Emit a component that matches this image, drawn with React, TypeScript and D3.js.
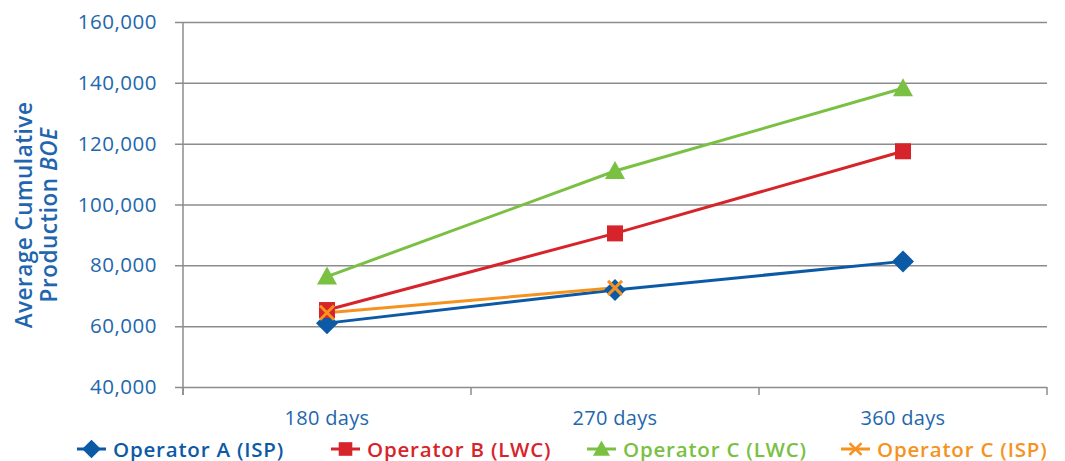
import { useEffect, useRef } from 'react'
import * as d3 from 'd3'

const categories = ['180 days', '270 days', '360 days']
const yTicks = [40000, 60000, 80000, 100000, 120000, 140000, 160000]

const operatorAIsp = [61000, 71900, 81300]
const operatorBLwc = [65300, 90500, 117500]
const operatorCLwc = [76300, 111000, 138200]
const operatorCIsp = [64400, 72600]

const seriesNames = ['Operator A (ISP)', 'Operator B (LWC)', 'Operator C (LWC)', 'Operator C (ISP)']

const W = 1065
const H = 461
const margin = { top: 22, right: 18, bottom: 74, left: 183 }
const font = '"Open Sans", "Noto Sans", sans-serif'

const App = () => {
  const svgRef = useRef<SVGSVGElement | null>(null)

  useEffect(() => {
    if (!svgRef.current) return
    const svg = d3.select(svgRef.current)
    svg.selectAll('*').remove()

    const width = W - margin.left - margin.right
    const height = H - margin.top - margin.bottom

    const x = d3.scaleBand().domain(categories).range([0, width])
    const y = d3.scaleLinear().domain([40000, 160000]).range([height, 0])

    const g = svg.append('g').attr('transform', `translate(${margin.left},${margin.top})`)

    // grid lines, extending left past the axis as tick marks
    g.append('g')
      .call(d3.axisLeft(y).tickValues(yTicks).tickSize(0).tickFormat(() => ''))
      .call(s => s.select('.domain').remove())
      .call(s => s.selectAll('.tick line').attr('stroke', '#8c8c8c').attr('stroke-width', 1.5)
        .attr('x1', -8).attr('x2', width))

    g.append('g')
      .call(d3.axisLeft(y).tickValues(yTicks).tickSize(0).tickPadding(26).tickFormat(d3.format(',')))
      .call(s => s.select('.domain').remove())
      .call(s => s.selectAll('text').attr('fill', '#2267ad').attr('font-size', 20.5)
        .attr('letter-spacing', 0.5).attr('font-family', font))

    // y axis line
    g.append('line').attr('x1', 0).attr('x2', 0).attr('y1', 0).attr('y2', height + 8)
      .attr('stroke', '#8c8c8c').attr('stroke-width', 1.5)

    // x ticks between categories
    const xEdges = [...categories.map(c => x(c) as number), width]
    g.selectAll('.xtick').data(xEdges).enter().append('line')
      .attr('x1', d => d).attr('x2', d => d).attr('y1', height).attr('y2', height + 8)
      .attr('stroke', '#8c8c8c').attr('stroke-width', 1.5)

    g.append('g')
      .attr('transform', `translate(0,${height})`)
      .call(d3.axisBottom(x).tickSize(0).tickPadding(24))
      .call(s => s.select('.domain').remove())
      .call(s => s.selectAll('text').attr('fill', '#2267ad').attr('font-size', 20)
        .attr('letter-spacing', 0.3).attr('font-family', font))

    // y title
    const title = svg.append('text')
      .attr('transform', `translate(32,215) rotate(-90)`)
      .attr('text-anchor', 'middle')
      .attr('fill', '#1f66ae')
      .attr('font-family', font)
      .attr('font-size', 22.5)
      .attr('font-weight', 600)
      .attr('letter-spacing', 0.5)
    title.append('tspan').attr('x', 0).attr('dy', 0).text('Average Cumulative')
    const t2 = title.append('tspan').attr('x', 0).attr('dy', 25)
    t2.append('tspan').text('Production ')
    t2.append('tspan').attr('font-style', 'italic').text('BOE')

    const cx = (i: number) => (x(categories[i]) as number) + x.bandwidth() / 2
    const colors = ['#0c5aa6', '#d7242b', '#79c043', '#f6921e']
    const allSeries = [operatorAIsp, operatorBLwc, operatorCLwc, operatorCIsp]

    const line = d3.line<number>().x((_, i) => cx(i)).y(d => y(d))

    const marker = (sel: d3.Selection<SVGGElement, unknown, null, undefined>, k: number) => {
      const c = colors[k]
      if (k === 0) sel.append('path').attr('d', 'M0,-11L11,0L0,11L-11,0Z').attr('fill', c)
      else if (k === 1) sel.append('rect').attr('x', -8).attr('y', -8).attr('width', 16).attr('height', 16).attr('fill', c)
      else if (k === 2) sel.append('path').attr('d', 'M0,-10L10,8L-10,8Z').attr('fill', c)
      else sel.append('path').attr('d', 'M-7,-7L7,7M-7,7L7,-7').attr('stroke', c).attr('stroke-width', 3).attr('fill', 'none')
    }

    // draw in order: A, C LWC, B, C ISP so overlaps look right
    const order = [0, 2, 1, 3]
    order.forEach(k => {
      g.append('path').datum(allSeries[k]).attr('d', line).attr('fill', 'none')
        .attr('stroke', colors[k]).attr('stroke-width', 3)
    })
    order.forEach(k => {
      allSeries[k].forEach((v, i) => {
        const m = g.append('g').attr('transform', `translate(${cx(i)},${y(v)})`)
        marker(m, k)
      })
    })

    // legend
    const legendX = [77, 331, 587, 841]
    const ly = 449
    seriesNames.forEach((name, k) => {
      const lg = svg.append('g').attr('transform', `translate(${legendX[k]},${ly})`)
      lg.append('line').attr('x1', 0).attr('x2', 29).attr('stroke', colors[k]).attr('stroke-width', 3)
      const m = lg.append('g').attr('transform', 'translate(14.5,0) scale(0.85)')
      marker(m, k)
      lg.append('text').attr('x', 36).attr('y', 7.5).attr('fill', colors[k])
        .attr('font-family', font).attr('font-size', 20.5).attr('font-weight', 600)
        .attr('letter-spacing', 0.8).text(name)
    })
  }, [])

  return (
    <div style={{ position: 'absolute', left: 0, top: 0 }}>
      <svg ref={svgRef} width={W} height={H} style={{ display: 'block', background: '#fff' }} />
    </div>
  )
}

export default App
